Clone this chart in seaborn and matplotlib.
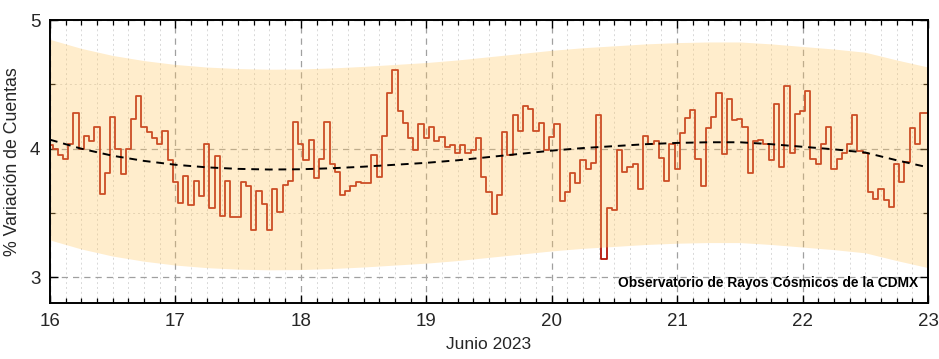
import numpy as np
import pandas as pd
import matplotlib
matplotlib.use("Agg")
import matplotlib.pyplot as plt
import seaborn as sns
from matplotlib.ticker import MultipleLocator

# Hourly % variation of counts, 16 June 00h .. 23 June 00h (169 samples)
variation = [
    4.03, 4.00, 3.95, 3.92, 4.04, 4.28, 4.00, 4.10, 4.06, 4.17, 3.65, 3.81,
    4.25, 4.00, 3.80, 4.00, 4.23, 4.41, 4.17, 4.13, 4.08, 4.04, 4.14, 3.91,
    3.74, 3.58, 3.79, 3.56, 3.75, 3.63, 4.04, 3.54, 3.94, 3.48, 3.75, 3.47,
    3.47, 3.74, 3.71, 3.37, 3.67, 3.57, 3.37, 3.69, 3.51, 3.72, 3.75, 4.21,
    4.04, 3.91, 4.07, 3.77, 3.92, 4.21, 3.88, 3.82, 3.64, 3.67, 3.71, 3.74,
    3.73, 3.73, 3.95, 3.78, 4.10, 4.43, 4.61, 4.29, 4.20, 4.08, 3.99, 4.19,
    4.08, 4.17, 4.06, 4.09, 4.01, 4.03, 3.97, 4.03, 3.97, 3.99, 4.08, 3.78,
    3.66, 3.49, 3.64, 4.13, 3.95, 4.26, 4.14, 4.33, 4.31, 4.14, 4.20, 3.99,
    4.09, 4.19, 3.59, 3.66, 3.81, 3.73, 3.91, 3.84, 3.89, 4.26, 3.14, 3.54,
    3.52, 3.99, 3.82, 3.86, 3.88, 3.69, 4.10, 4.04, 4.06, 3.93, 3.75, 4.04,
    3.84, 4.12, 4.24, 4.30, 3.92, 3.71, 4.16, 4.25, 4.43, 3.96, 4.39, 4.22,
    4.23, 4.17, 3.81, 4.06, 4.07, 4.04, 3.91, 4.35, 3.86, 4.49, 3.97, 4.27,
    4.29, 4.45, 3.92, 3.88, 4.04, 4.17, 3.84, 3.92, 3.97, 4.04, 4.26, 3.98,
    3.97, 3.66, 3.61, 3.69, 3.60, 3.55, 3.88, 3.74, 3.90, 4.16, 4.04, 4.28,
    4.28,
]

# Trend and band, every 6 hours from 16.0 to 23.0 (29 samples)
trend = [
    4.070, 4.000, 3.945, 3.905, 3.875, 3.855, 3.843, 3.838, 3.840, 3.848,
    3.860, 3.875, 3.890, 3.910, 3.935, 3.960, 3.985, 4.005, 4.020, 4.035,
    4.045, 4.050, 4.050, 4.035, 4.015, 3.995, 3.970, 3.910, 3.855,
]
band_upper = [
    4.850, 4.780, 4.725, 4.685, 4.655, 4.635, 4.623, 4.618, 4.620, 4.628,
    4.640, 4.655, 4.670, 4.690, 4.715, 4.740, 4.765, 4.785, 4.800, 4.815,
    4.825, 4.830, 4.830, 4.815, 4.795, 4.775, 4.750, 4.690, 4.635,
]
band_lower = [
    3.290, 3.220, 3.165, 3.125, 3.095, 3.075, 3.063, 3.058, 3.060, 3.068,
    3.080, 3.095, 3.110, 3.130, 3.155, 3.180, 3.205, 3.225, 3.240, 3.255,
    3.265, 3.270, 3.270, 3.255, 3.235, 3.215, 3.190, 3.130, 3.075,
]

day_ticks = [16, 17, 18, 19, 20, 21, 22, 23]
y_ticks = [3, 4, 5]
x_label = "Junio 2023"
y_label = "% Variación de Cuentas"
credit = "Observatorio de Rayos Cósmicos de la CDMX"

hourly_days = 16 + np.arange(len(variation)) / 24.0
six_hour_days = 16 + np.arange(len(trend)) / 4.0
df_obs = pd.DataFrame({"dia": hourly_days, "var": variation})
df_trend = pd.DataFrame({"dia": six_hour_days, "tend": trend,
                         "sup": band_upper, "inf": band_lower})

sns.set_style("ticks")
plt.rcParams["font.family"] = ["Liberation Sans", "DejaVu Sans"]

fig = plt.figure(figsize=(9.39, 3.59), dpi=100)
ax = fig.add_axes([0.0532, 0.156, 0.9351, 0.788])

# grids
ax.grid(which="major", color="#a0a0a0", linestyle=(0, (5, 4)), linewidth=0.9, zorder=0)
ax.grid(which="minor", color="#d8d8d8", linestyle=(0, (2, 3)), linewidth=0.7, zorder=0)

sns.lineplot(data=df_obs, x="dia", y="var", ax=ax, color="#b4140a",
             linewidth=1.3, drawstyle="steps-mid", zorder=2)
ax.fill_between(df_trend["dia"], df_trend["inf"], df_trend["sup"],
                color=(1.0, 0.78, 0.38), alpha=0.32, linewidth=0, zorder=3)
sns.lineplot(data=df_trend, x="dia", y="tend", ax=ax, color="black",
             linewidth=1.4, linestyle=(0, (4, 3)), zorder=4)

ax.set_xlim(16, 23)
ax.set_ylim(2.8, 5.0)
ax.set_xticks(day_ticks)
ax.set_xticklabels([str(d) for d in day_ticks])
ax.set_yticks(y_ticks)
ax.set_yticklabels([str(v) for v in y_ticks])
ax.xaxis.set_minor_locator(MultipleLocator(0.125))
ax.yaxis.set_minor_locator(MultipleLocator(0.5))
ax.tick_params(which="both", direction="in", top=True, right=True,
               labelsize=13.5, color="black")
ax.tick_params(which="major", length=6, width=1.0, pad=7)
ax.tick_params(which="minor", length=3.5, width=0.9)
for s in ax.spines.values():
    s.set_linewidth(1.4)
    s.set_color("black")
    s.set_zorder(6)

ax.set_xlabel(x_label, fontsize=12.5, labelpad=5)
ax.set_ylabel(y_label, fontsize=12.8, labelpad=6)

ax.text(0.989, 0.072, credit, transform=ax.transAxes, ha="right", va="center",
        fontsize=9.9, fontweight="bold", color="black", zorder=7)

fig.savefig("out.png", dpi=100)
